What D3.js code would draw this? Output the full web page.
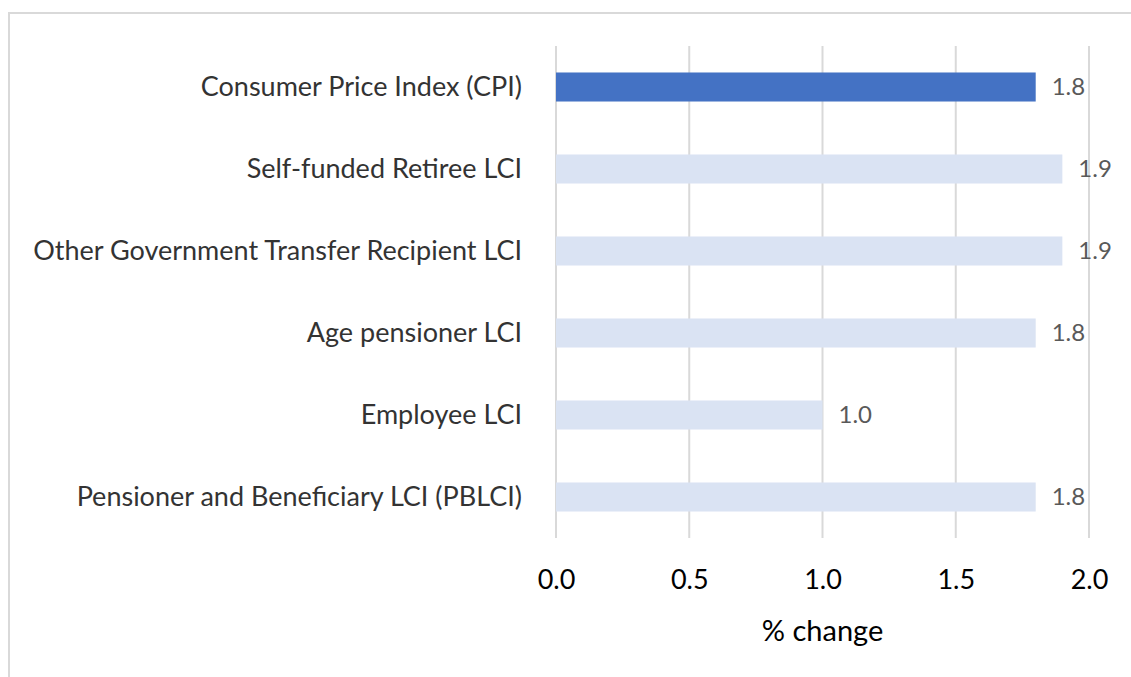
<!DOCTYPE html>
<html>
<head>
<meta charset="utf-8">
<script src="https://cdn.jsdelivr.net/npm/d3@7"></script>
<style>
  body { margin: 0; background: #fff; }
  svg text { font-family: Lato, "Open Sans", sans-serif; }
</style>
</head>
<body>
<div id="chart"></div>
<script>
(function(){

    var categories = [
        "Consumer Price Index (CPI)",
        "Self-funded Retiree LCI",
        "Other Government Transfer Recipient LCI",
        "Age pensioner LCI",
        "Employee LCI",
        "Pensioner and Beneficiary LCI (PBLCI)"
    ];
    var values = [1.8, 1.9, 1.9, 1.8, 1.0, 1.8];
    var xTicks = [0, 0.5, 1.0, 1.5, 2.0];

    var width = 1131;
    var height = 677;

    var margin = { top: 46, right: 42, bottom: 139, left: 556 };

    var svg = d3.select("#chart")
        .append("svg")
            .attr("width", width)
            .attr("height", height);

    // chart frame (only top + left edges visible)
    svg.append("path")
        .attr("d", "M9,677 V13 H1131")
        .attr("fill", "none")
        .attr("stroke", "#d9d9d9")
        .attr("stroke-width", 2);

    var g = svg.append("g")
        .attr("transform", "translate(" + margin.left + "," + margin.top + ")");

    var w = width - margin.left - margin.right;
    var h = height - margin.top - margin.bottom;

    var x = d3.scaleLinear().domain([0, 2]).range([0, w]);
    var y = d3.scaleBand().domain(categories).range([0, h]).paddingInner(0.646).paddingOuter(0.323);

    // gridlines
    g.selectAll("line.grid")
        .data(xTicks)
        .enter().append("line")
            .attr("class", "grid")
            .attr("x1", function(d){ return x(d); })
            .attr("x2", function(d){ return x(d); })
            .attr("y1", 0)
            .attr("y2", h)
            .attr("stroke", "#d9d9d9")
            .attr("stroke-width", 2);

    g.selectAll("rect.bar")
        .data(values)
        .enter().append("rect")
            .attr("class", "bar")
            .attr("x", x(0))
            .attr("y", function(d, i){ return y(categories[i]); })
            .attr("width", function(d){ return x(d) - x(0); })
            .attr("height", y.bandwidth())
            .attr("fill", function(d, i){ return i === 0 ? "#4472c4" : "#dae3f3"; });

    g.selectAll("text.val")
        .data(values)
        .enter().append("text")
            .attr("class", "val")
            .attr("x", function(d){ return x(d) + 16; })
            .attr("y", function(d, i){ return y(categories[i]) + y.bandwidth() / 2; })
            .attr("dy", "0.35em")
            .attr("font-size", 24)
            .attr("fill", "#595959")
            .text(function(d){ return d3.format(".1f")(d); });

    // category labels
    g.selectAll("text.cat")
        .data(categories)
        .enter().append("text")
            .attr("class", "cat")
            .attr("x", -34)
            .attr("y", function(d){ return y(d) + y.bandwidth() / 2; })
            .attr("dy", "0.35em")
            .attr("text-anchor", "end")
            .attr("font-size", 27)
            .attr("fill", "#333")
            .text(function(d){ return d; });

    // x axis labels
    var xAxis = d3.axisBottom(x).tickValues(xTicks).tickFormat(d3.format(".1f")).tickSize(0).tickPadding(32);
    var ax = g.append("g")
        .attr("transform", "translate(0," + h + ")")
        .call(xAxis);
    ax.select(".domain").remove();
    ax.selectAll("text")
        .attr("font-size", 27)
        .attr("fill", "#000")
        .style("font-family", "Lato, 'Open Sans', sans-serif");

    g.append("text")
        .attr("x", w / 2)
        .attr("y", h + 103)
        .attr("text-anchor", "middle")
        .attr("font-size", 29)
        .attr("fill", "#000")
        .text("% change");
})();
</script>
</body>
</html>
